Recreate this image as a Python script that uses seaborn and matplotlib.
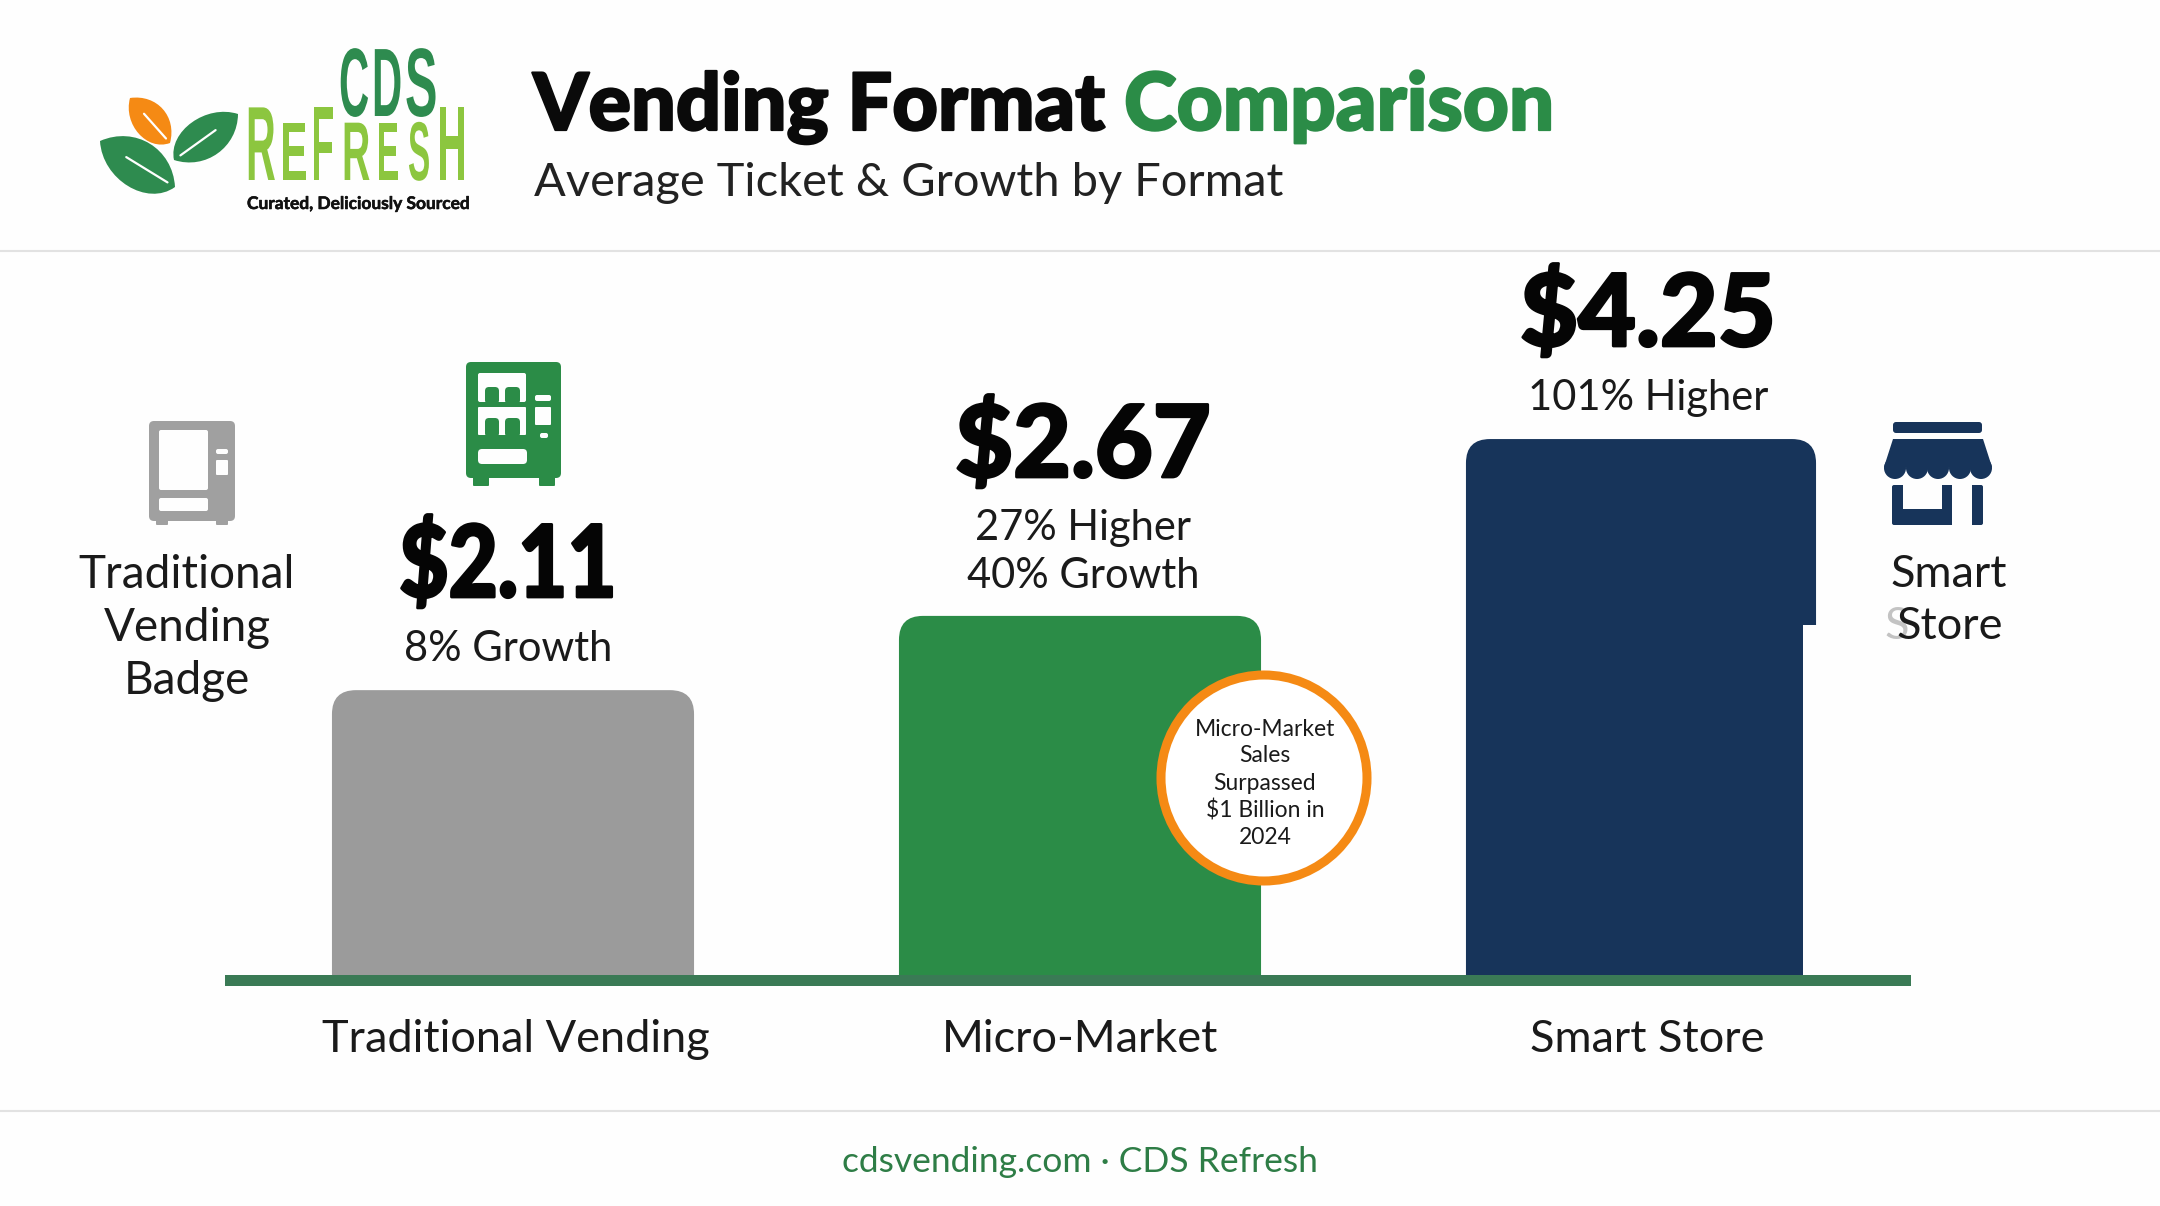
import pandas as pd
import seaborn as sns
import matplotlib.pyplot as plt
from matplotlib.patches import FancyBboxPatch, PathPatch, Circle, Rectangle
from matplotlib.path import Path
from matplotlib.patheffects import AbstractPathEffect, withStroke
from matplotlib.transforms import Affine2D

formats = ['Traditional Vending', 'Micro-Market', 'Smart Store']
bar_heights = [2.11, 2.66, 3.97]  # as drawn in the picture, smart store bar is shorter than its label
prices = ['$2.11', '$2.67', '$4.25']
notes = [['8% Growth'], ['27% Higher', '40% Growth'], ['101% Higher']]
colors = ['#9b9b9b', '#2b8c47', '#17345a']

GREEN = '#2b8c47'
NAVY = '#17345a'
GREY = '#a0a0a0'
LIME = '#8cc63f'
ORANGE = '#f58a14'
PAPER = '#fefefe'
BODY = 'Lato'
W, H = 2160, 1206

sns.set_theme(style='white')
plt.rcParams['font.family'] = [BODY, 'DejaVu Sans']


class Stretch(AbstractPathEffect):
    # scales the glyphs around a pixel point, logo lettering is tall and condensed
    def __init__(self, x0, y0, sx=1, sy=1, lw=0):
        super().__init__()
        self.x0, self.y0, self.sx, self.sy, self.lw = x0, y0, sx, sy, lw

    def draw_path(self, renderer, gc, tpath, affine, rgbFace=None):
        a = affine + Affine2D().translate(-self.x0, -self.y0).scale(self.sx, self.sy).translate(self.x0, self.y0)
        gc0 = renderer.new_gc()
        gc0.copy_properties(gc)
        gc0.set_linewidth(self.lw)
        gc0.set_foreground(rgbFace)
        renderer.draw_path(gc0, tpath, a, rgbFace)
        gc0.restore()


df = pd.DataFrame({'format': formats, 'height': bar_heights})

f = plt.figure(figsize=(W / 100, H / 100), dpi=100, facecolor=PAPER)
# chart axes: zero line at y=975px, 135px per dollar
ax = f.add_axes([231 / W, 1 - 975 / H, 1692 / W, 675 / H])
sns.barplot(x='format', y='height', hue='format', data=df, ax=ax, palette=colors, width=0.642,
            legend=False, saturation=1, dodge=False)
ax.set(xlim=(-0.5, 2.5), ylim=(0, 5), xlabel='', ylabel='', xticks=[], yticks=[])
sns.despine(ax=ax, left=True, bottom=True)
ax.patch.set_alpha(0)

# overlay in pixel coordinates for rounded bars, icons and text
o = f.add_axes([0, 0, 1, 1], zorder=3)
o.set(xlim=(0, W), ylim=(H, 0))
o.axis('off')
o.patch.set_alpha(0)

f.canvas.draw()
nudge = [0, 3, 0]
for i, bar in enumerate(ax.patches[:3]):
    (x0, y0), (x1, y1) = ax.transData.transform([(bar.get_x(), 0), (bar.get_x() + bar.get_width(), bar.get_height())])
    top = H - y1
    x0, x1 = x0 + nudge[i], x1 + nudge[i]
    if i == 2:
        x0, x1 = x0 + 6, x1 - 6
    bar.set_visible(False)
    o.add_patch(FancyBboxPatch((x0, top), x1 - x0, 975 - top + 30, boxstyle='round,pad=0,rounding_size=24',
                               fc=colors[i], ec='none', zorder=1))
    if i == 2:
        o.add_patch(Rectangle((x1 - 13, 625), 15, 390, fc=PAPER, ec='none', zorder=1.1))

# clean up under the baseline
o.add_patch(Rectangle((300, 986), 1600, 60, fc=PAPER, ec='none', zorder=1.2))
o.add_patch(Rectangle((225, 975), 1686, 11, fc='#3a7a55', ec='none', zorder=2))
for y in [251, 1111]:
    o.plot([0, W], [y, y], color='#e2e2e2', lw=1.5, zorder=1)

# header
o.text(533, 130, 'Vending Format', fontsize=57, fontweight=900, color='#0a0a0a', ha='left', va='baseline',
       path_effects=[withStroke(linewidth=1.6, foreground='#0a0a0a')])
o.text(1124, 130, 'Comparison', fontsize=57.5, fontweight=900, color=GREEN, ha='left', va='baseline',
       path_effects=[withStroke(linewidth=1.6, foreground=GREEN)])
o.text(534, 196, 'Average Ticket & Growth by Format', fontsize=33.8, color='#222222', ha='left', va='baseline')


def leaf(tip, base, bulge, color):
    tx, ty = tip
    bx, by = base
    dx, dy = bx - tx, by - ty
    nx, ny = -dy, dx
    c1 = (tx + .25 * dx + bulge * nx, ty + .25 * dy + bulge * ny)
    c2 = (tx + .85 * dx + bulge * nx, ty + .85 * dy + bulge * ny)
    c3 = (tx + .75 * dx - bulge * nx, ty + .75 * dy - bulge * ny)
    c4 = (tx + .25 * dx - bulge * nx, ty + .25 * dy - bulge * ny)
    p = Path([tip, c1, c2, base, c3, c4, tip], [1, 4, 4, 4, 4, 4, 4])
    o.add_patch(PathPatch(p, fc=color, ec='none', zorder=2))
    o.plot([tx + .35 * dx, tx + .9 * dx], [ty + .35 * dy, ty + .9 * dy], color='white', lw=1.6, zorder=2.1)


leaf((130, 98), (170, 143), .38, ORANGE)
leaf((100, 141), (175, 187), .36, '#2e8b4f')
leaf((238, 114), (174, 160), .34, '#2e8b4f')


def logo_letter(c, x, y, size, squeeze, color):
    # font size fits the letter width, then the glyph is pulled up from the baseline
    o.text(x, y, c, fontsize=size * squeeze, color=color, family='Liberation Sans', fontweight='bold', va='baseline',
           path_effects=[Stretch(x, H - y, sy=1 / squeeze)])


for c, x, q in zip(['C', 'D', 'S'], [339, 372, 405], [.43, .43, .5]):
    logo_letter(c, x, 116, 70, q, '#2e8b4f')
logo_letters = ['R', 'E', 'F', 'R', 'E', 'S', 'H']
logo_x = [246, 280, 311, 342, 377, 408, 437]
logo_size = [76, 60, 76, 60, 60, 60, 76]
logo_sq = [.39, .49, .36, .47, .4, .4, .39]
for c, x, s, q in zip(logo_letters, logo_x, logo_size, logo_sq):
    logo_letter(c, x, 180, s, q, LIME)
o.text(247, 204, 'Curated, Deliciously Sourced', fontsize=12.5, fontweight='bold', color='#111111', ha='left', va='center',
       path_effects=[withStroke(linewidth=.4, foreground='#111111')])


def rr(x0, y0, x1, y1, color, r=3, z=3):
    o.add_patch(FancyBboxPatch((x0, y0), x1 - x0, y1 - y0, boxstyle=f'round,pad=0,rounding_size={r}', fc=color, ec='none', zorder=z))


# grey vending machine
rr(149, 421, 235, 521, GREY, 5)
rr(156, 518, 168, 525, GREY, 1)
rr(216, 518, 228, 525, GREY, 1)
rr(159, 430, 208, 490, PAPER, 2, 4)
rr(159, 498, 208, 511, PAPER, 2, 4)
rr(216, 449, 228, 454, PAPER, 2, 4)
rr(216, 460, 228, 475, PAPER, 1, 4)

# green vending machine
rr(466, 362, 561, 478, GREEN, 5)
rr(473, 475, 489, 486, GREEN, 1)
rr(539, 475, 555, 486, GREEN, 1)
rr(478, 373, 526, 402, PAPER, 2, 4)
rr(478, 407, 526, 435, PAPER, 1, 4)
rr(478, 449, 527, 464, PAPER, 4, 4)
rr(535, 395, 551, 401, PAPER, 2, 4)
rr(535, 407, 551, 425, PAPER, 1, 4)
rr(540, 433, 548, 438, PAPER, 2, 4)
for x0, x1 in [(485, 499), (505, 520)]:
    rr(x0, 387, x1, 404, GREEN, 4, 5)
    rr(x0, 418, x1, 437, GREEN, 4, 5)

# store icon
rr(1893, 422, 1982, 433, NAVY, 3)
awning = Path([(1893, 439), (1983, 439), (1992, 467), (1884, 467), (1893, 439)], [1, 2, 2, 2, 2])
o.add_patch(PathPatch(awning, fc=NAVY, ec='none', zorder=3))
for cx in [1895, 1917, 1938, 1960, 1981]:
    o.add_patch(Circle((cx, 468), 11, fc=NAVY, ec='none', zorder=3))
rr(1892, 485, 1983, 525, NAVY, 2)
o.add_patch(Rectangle((1903, 484), 39, 25, fc=PAPER, ec='none', zorder=4))
o.add_patch(Rectangle((1952, 484), 20, 42, fc=PAPER, ec='none', zorder=4))

# side labels
for s, y in zip(['Traditional', 'Vending', 'Badge'], [575, 628, 681]):
    o.text(187, y, s, fontsize=33, color='#1a1a1a', ha='center', va='center')
o.text(1891, 587, 'Smart', fontsize=32.5, color='#1a1a1a', ha='left', va='baseline')
o.text(1885, 639, 'S', fontsize=32.5, color='#aaaaaa', ha='left', va='baseline', alpha=.7)
o.text(1897, 639, 'Store', fontsize=32.5, color='#1a1a1a', ha='left', va='baseline')

# bar labels
price_xy = [(508, 568), (1083, 448), (1648, 317)]
price_sq = [.85, 1, 1]
note_y = [[649], [528, 576], [398]]
label_x = [516, 1080, 1647]
for i in range(3):
    x, y = price_xy[i]
    o.text(x, y, prices[i], fontsize=72, fontweight=900, color='#050505', ha='center', va='center',
           path_effects=[Stretch(x, 0, sx=price_sq[i], lw=2)])
    for s, ny in zip(notes[i], note_y[i]):
        o.text(x, ny, s, fontsize=30, color='#1a1a1a', ha='center', va='center')
    o.text(label_x[i], 1039, formats[i], fontsize=32.5, color='#1a1a1a', ha='center', va='center')

# callout bubble
o.add_patch(Circle((1264, 778), 103, fc='white', ec=ORANGE, lw=6.5, zorder=6))
for s, y in zip(['Micro-Market', 'Sales', 'Surpassed', '$1 Billion in', '2024'], [729, 756, 783, 810, 837]):
    o.text(1265, y, s, fontsize=16.5, color='#1a1a1a', ha='center', va='center', zorder=7)

# footer
o.text(1080, 1162, 'cdsvending.com · CDS Refresh', fontsize=25.5, color='#2e7d46', ha='center', va='center')

plt.savefig('out.png', dpi=100, facecolor=f.get_facecolor())
